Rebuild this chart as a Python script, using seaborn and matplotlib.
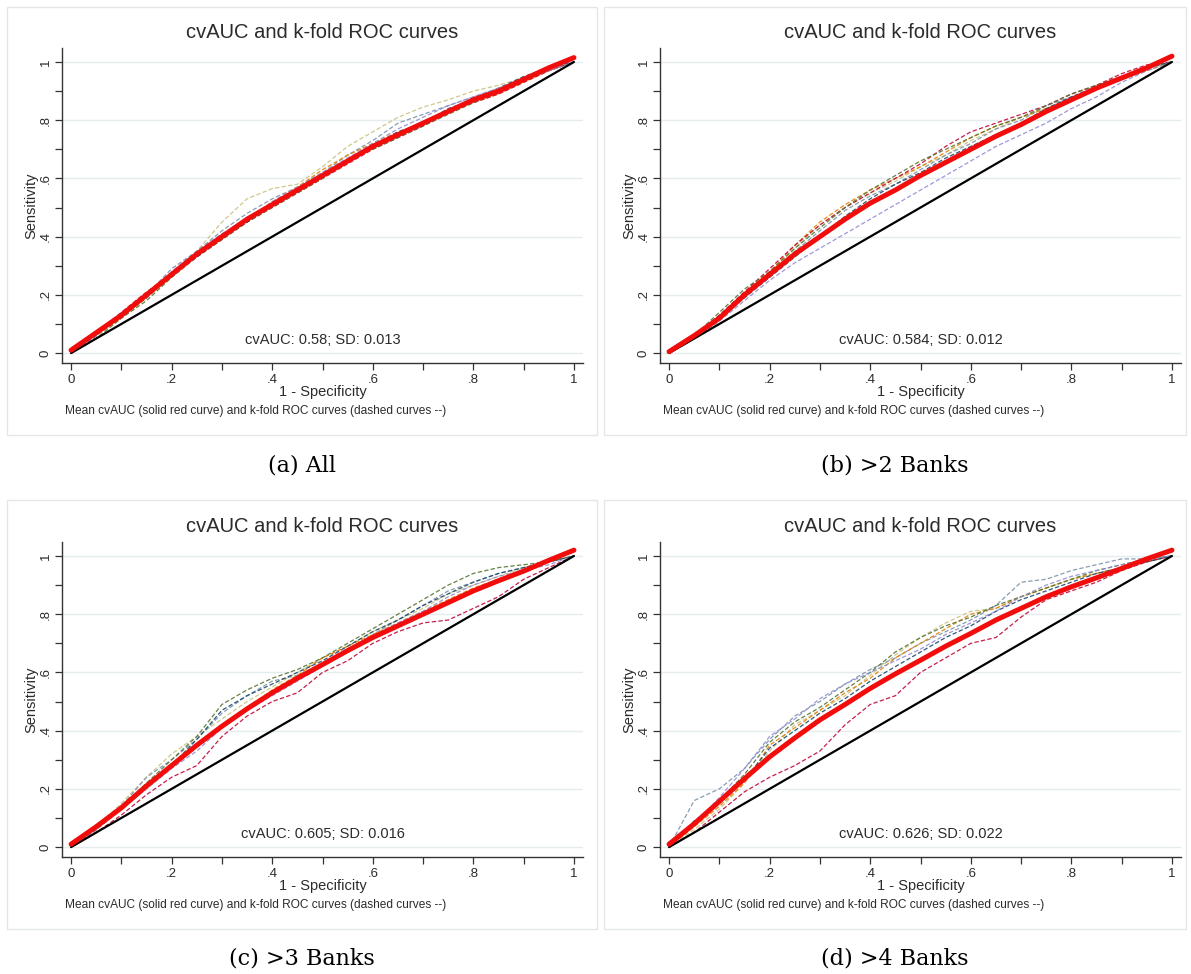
import seaborn as sns
import matplotlib.pyplot as plt
from matplotlib.patches import Rectangle

# 1 - specificity grid used for all the read-off curves
fpr = [0, .05, .1, .15, .2, .25, .3, .35, .4, .45, .5, .55, .6, .65, .7, .75, .8, .85, .9, .95, 1]

captions = ["(a) All", "(b) >2 Banks", "(c) >3 Banks", "(d) >4 Banks"]
cv_auc = ["0.58", "0.584", "0.605", "0.626"]
cv_sd = ["0.013", "0.012", "0.016", "0.022"]

tick_vals = [0, .2, .4, .6, .8, 1]
tick_text = ["0", ".2", ".4", ".6", ".8", "1"]
minor_vals = [.1, .3, .5, .7, .9]

# mean cvAUC curves (solid red)
mean_a = [0.01, 0.07, 0.13, 0.20, 0.27, 0.34, 0.40, 0.46, 0.51, 0.56, 0.61,
          0.66, 0.71, 0.75, 0.79, 0.83, 0.87, 0.90, 0.94, 0.98, 1.015]
mean_b = [0.005, 0.06, 0.12, 0.20, 0.27, 0.34, 0.40, 0.46, 0.515, 0.56, 0.61,
          0.655, 0.70, 0.745, 0.785, 0.83, 0.87, 0.91, 0.945, 0.98, 1.02]
mean_c = [0.01, 0.07, 0.135, 0.21, 0.28, 0.35, 0.415, 0.475, 0.53, 0.58, 0.627,
          0.675, 0.72, 0.76, 0.80, 0.84, 0.88, 0.915, 0.948, 0.985, 1.02]
mean_d = [0.01, 0.08, 0.157, 0.235, 0.31, 0.375, 0.437, 0.49, 0.545, 0.595, 0.642,
          0.69, 0.734, 0.78, 0.82, 0.86, 0.894, 0.925, 0.957, 0.99, 1.02]

# k-fold ROC curves (dashed)
folds_a = [
    [0, 0.06, 0.12, 0.19, 0.26, 0.35, 0.45, 0.53, 0.565, 0.58, 0.64, 0.71, 0.76, 0.81, 0.845, 0.87, 0.90, 0.92, 0.945, 0.975, 1.0],
    [0, 0.06, 0.13, 0.20, 0.29, 0.35, 0.42, 0.48, 0.53, 0.57, 0.62, 0.68, 0.73, 0.79, 0.82, 0.85, 0.88, 0.91, 0.94, 0.97, 1.0],
    [0, 0.06, 0.12, 0.19, 0.27, 0.34, 0.40, 0.46, 0.52, 0.57, 0.63, 0.68, 0.72, 0.76, 0.79, 0.83, 0.86, 0.89, 0.93, 0.97, 1.0],
    [0, 0.07, 0.14, 0.21, 0.27, 0.33, 0.39, 0.45, 0.50, 0.55, 0.60, 0.65, 0.70, 0.74, 0.78, 0.83, 0.86, 0.89, 0.93, 0.97, 1.0],
    [0, 0.05, 0.12, 0.18, 0.26, 0.33, 0.39, 0.45, 0.50, 0.55, 0.60, 0.66, 0.70, 0.74, 0.78, 0.82, 0.86, 0.90, 0.94, 0.98, 1.0],
    [0, 0.06, 0.13, 0.19, 0.27, 0.33, 0.40, 0.45, 0.51, 0.56, 0.61, 0.66, 0.71, 0.76, 0.79, 0.84, 0.87, 0.91, 0.95, 0.98, 1.0],
    [0, 0.06, 0.13, 0.20, 0.28, 0.35, 0.41, 0.46, 0.52, 0.57, 0.62, 0.67, 0.72, 0.77, 0.81, 0.85, 0.88, 0.91, 0.94, 0.97, 1.0],
]
folds_b = [
    [0, 0.05, 0.11, 0.19, 0.27, 0.36, 0.44, 0.50, 0.55, 0.59, 0.64, 0.68, 0.73, 0.77, 0.81, 0.84, 0.88, 0.91, 0.94, 0.97, 1.0],
    [0, 0.06, 0.13, 0.21, 0.27, 0.35, 0.42, 0.49, 0.54, 0.58, 0.63, 0.68, 0.72, 0.77, 0.80, 0.85, 0.88, 0.92, 0.95, 0.98, 1.0],
    [0, 0.05, 0.12, 0.20, 0.28, 0.37, 0.45, 0.51, 0.56, 0.60, 0.64, 0.69, 0.74, 0.78, 0.81, 0.84, 0.87, 0.91, 0.94, 0.97, 1.0],
    [0, 0.06, 0.13, 0.21, 0.29, 0.37, 0.44, 0.50, 0.55, 0.60, 0.65, 0.71, 0.76, 0.79, 0.82, 0.85, 0.89, 0.92, 0.96, 0.99, 1.0],
    [0, 0.06, 0.14, 0.22, 0.28, 0.36, 0.43, 0.50, 0.56, 0.61, 0.66, 0.70, 0.74, 0.78, 0.81, 0.85, 0.89, 0.92, 0.95, 0.98, 1.0],
    [0, 0.05, 0.12, 0.19, 0.26, 0.33, 0.40, 0.47, 0.53, 0.58, 0.62, 0.67, 0.71, 0.75, 0.79, 0.84, 0.88, 0.91, 0.95, 0.98, 1.0],
    [0, 0.05, 0.11, 0.18, 0.25, 0.31, 0.36, 0.41, 0.46, 0.51, 0.56, 0.61, 0.66, 0.71, 0.75, 0.79, 0.84, 0.88, 0.93, 0.97, 1.0],
]
folds_c = [
    [0, 0.07, 0.15, 0.24, 0.32, 0.38, 0.44, 0.50, 0.55, 0.60, 0.65, 0.69, 0.74, 0.78, 0.82, 0.87, 0.90, 0.93, 0.96, 0.98, 1.0],
    [0, 0.07, 0.14, 0.24, 0.30, 0.37, 0.46, 0.52, 0.57, 0.59, 0.63, 0.68, 0.73, 0.78, 0.83, 0.88, 0.91, 0.94, 0.96, 0.98, 1.0],
    [0, 0.06, 0.13, 0.21, 0.28, 0.35, 0.42, 0.48, 0.54, 0.59, 0.65, 0.69, 0.73, 0.77, 0.81, 0.85, 0.89, 0.92, 0.95, 0.98, 1.0],
    [0, 0.05, 0.11, 0.18, 0.24, 0.28, 0.38, 0.45, 0.50, 0.53, 0.60, 0.64, 0.70, 0.74, 0.77, 0.78, 0.82, 0.86, 0.92, 0.96, 1.0],
    [0, 0.07, 0.14, 0.22, 0.30, 0.38, 0.49, 0.54, 0.58, 0.61, 0.65, 0.70, 0.75, 0.80, 0.85, 0.90, 0.94, 0.96, 0.97, 0.98, 1.0],
    [0, 0.06, 0.13, 0.21, 0.28, 0.37, 0.47, 0.52, 0.56, 0.60, 0.64, 0.69, 0.74, 0.78, 0.83, 0.87, 0.91, 0.94, 0.96, 0.98, 1.0],
    [0, 0.06, 0.13, 0.20, 0.27, 0.33, 0.41, 0.47, 0.52, 0.57, 0.62, 0.67, 0.72, 0.77, 0.81, 0.86, 0.90, 0.93, 0.95, 0.97, 1.0],
]
folds_d = [
    [0, 0.06, 0.13, 0.22, 0.33, 0.42, 0.47, 0.52, 0.59, 0.66, 0.72, 0.77, 0.81, 0.82, 0.86, 0.89, 0.92, 0.94, 0.96, 0.98, 1.0],
    [0, 0.16, 0.20, 0.27, 0.37, 0.45, 0.50, 0.56, 0.61, 0.65, 0.70, 0.74, 0.78, 0.83, 0.91, 0.92, 0.95, 0.97, 0.99, 0.99, 1.0],
    [0, 0.07, 0.14, 0.22, 0.35, 0.41, 0.47, 0.53, 0.58, 0.65, 0.70, 0.75, 0.80, 0.82, 0.86, 0.89, 0.92, 0.94, 0.96, 0.98, 1.0],
    [0, 0.05, 0.12, 0.19, 0.24, 0.28, 0.33, 0.42, 0.49, 0.52, 0.60, 0.65, 0.70, 0.72, 0.79, 0.85, 0.88, 0.91, 0.95, 0.98, 1.0],
    [0, 0.08, 0.16, 0.25, 0.36, 0.43, 0.48, 0.54, 0.60, 0.67, 0.72, 0.76, 0.79, 0.83, 0.86, 0.89, 0.92, 0.95, 0.97, 0.99, 1.0],
    [0, 0.09, 0.15, 0.23, 0.34, 0.40, 0.46, 0.51, 0.57, 0.62, 0.67, 0.72, 0.76, 0.81, 0.85, 0.88, 0.91, 0.94, 0.96, 0.98, 1.0],
    [0, 0.08, 0.17, 0.27, 0.38, 0.44, 0.51, 0.56, 0.60, 0.64, 0.68, 0.73, 0.77, 0.81, 0.86, 0.90, 0.93, 0.95, 0.97, 0.99, 1.0],
]

means = [mean_a, mean_b, mean_c, mean_d]
folds = [folds_a, folds_b, folds_c, folds_d]

# stata s2color-ish fold colours
fold_colors = ["#cac27e", "#7b92a8", "#e37e00", "#c10534", "#55752f", "#1a476f", "#938dd2"]

sns.set_theme(style="white")
plt.rcParams["font.family"] = ["Liberation Sans", "DejaVu Sans"]

W, H = 1191, 974
fig = plt.figure(figsize=(W / 100, H / 100), dpi=100)
fig.patch.set_facecolor("white")

# pixel boxes (left, top, right, bottom)
borders = [(7, 7, 597, 435), (604, 7, 1186, 435), (7, 500, 597, 929), (604, 500, 1186, 929)]
axes_px = [(62, 48, 583, 363), (660, 48, 1181, 363), (62, 542, 583, 857), (660, 542, 1181, 857)]
caption_y = [465, 465, 959, 959]

txt = "#2b2b2b"

for i in range(4):
    bl, bt, br, bb = borders[i]
    fig.patches.append(Rectangle((bl / W, 1 - bb / H), (br - bl) / W, (bb - bt) / H,
                                 transform=fig.transFigure, fill=False,
                                 edgecolor="#e3e7ea", linewidth=1.0))

    l, t, r, b = axes_px[i]
    aw, ah = r - l, b - t
    ax = fig.add_axes([l / W, 1 - b / H, aw / W, ah / H])
    ax.set_facecolor("white")

    for k, fy in enumerate(folds[i]):
        sns.lineplot(x=fpr, y=fy, ax=ax, color=fold_colors[k], linewidth=0.9,
                     linestyle=(0, (3.5, 1.8)), alpha=0.9)
    sns.lineplot(x=[0, 1], y=[0, 1], ax=ax, color="black", linewidth=1.6)
    sns.lineplot(x=fpr, y=means[i], ax=ax, color="#f20d0d", linewidth=3.6)

    ax.set_xlim(-0.018, 1.018)
    ax.set_ylim(-0.034, 1.048)
    ax.set_xticks(tick_vals)
    ax.set_xticklabels(tick_text, fontsize=9.5, color=txt)
    ax.set_yticks(tick_vals)
    ax.set_yticklabels(tick_text, fontsize=9.5, color=txt, rotation=90, va="center")
    ax.set_xticks(minor_vals, minor=True)
    ax.set_yticks(minor_vals, minor=True)
    ax.tick_params(which="both", direction="out", length=5, width=0.9, color="#333333",
                   bottom=True, left=True)
    ax.tick_params(axis="x", pad=3)
    ax.tick_params(axis="y", pad=2.5)

    ax.yaxis.grid(True, color="#e4ecef", linewidth=1.0)
    ax.xaxis.grid(False)
    ax.set_axisbelow(True)
    for s in ["top", "right"]:
        ax.spines[s].set_visible(False)
    for s in ["left", "bottom"]:
        ax.spines[s].set_color("#333333")
        ax.spines[s].set_linewidth(1.0)

    ax.set_title("cvAUC and k-fold ROC curves", fontsize=14.5, color=txt, pad=7)
    ax.set_xlabel("1 - Specificity", fontsize=10.5, color=txt)
    ax.set_ylabel("Sensitivity", fontsize=10.5, color=txt)
    ax.xaxis.set_label_coords(0.5, -29 / ah)
    ax.xaxis.label.set_va("center")
    ax.yaxis.set_label_coords(-31 / aw, 0.5)
    ax.yaxis.label.set_va("center")
    ax.text(0.5, 0.045, f"cvAUC: {cv_auc[i]}; SD: {cv_sd[i]}", ha="center", va="center",
            fontsize=10.5, color=txt)

    fig.text((l + 3) / W, 1 - (b + 48) / H,
             "Mean cvAUC (solid red curve) and k-fold ROC curves (dashed curves --)",
             fontsize=8.6, color=txt, ha="left", va="center")

    fig.text(((bl + br) / 2) / W, 1 - caption_y[i] / H, captions[i],
             fontsize=16, color="black", ha="center", va="center",
             family=["DejaVu Serif"])

fig.savefig("out.png", dpi=100, facecolor="white")
